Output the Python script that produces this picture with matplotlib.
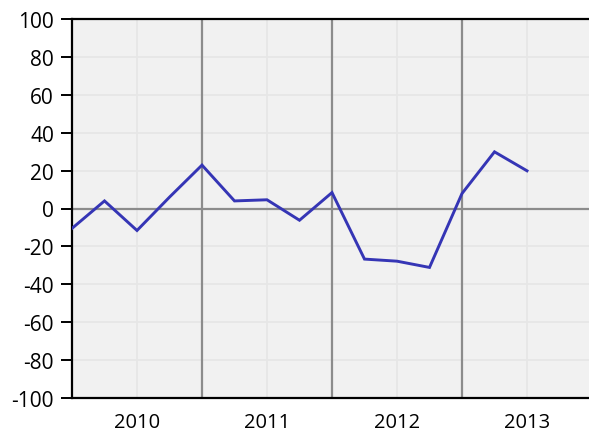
import numpy as np
import matplotlib
matplotlib.use("Agg")
import matplotlib.pyplot as plt

# Données trimestrielles (valeur par trimestre)

trimestres = [2009.5, 2009.75, 2010.0, 2010.25, 2010.5, 2010.75, 2011.0, 2011.25,
              2011.5, 2011.75, 2012.0, 2012.25, 2012.5, 2012.75, 2013.0]
valeurs = [-10.5, 4.0, -11.6, 6.0, 22.9, 4.0, 4.6, -6.2,
           8.4, -26.7, -27.8, -31.1, 7.9, 29.9, 19.9]

annees = [2010, 2011, 2012, 2013]
separations = [2010.5, 2011.5, 2012.5]
yticks = list(range(-100, 101, 20))

plt.rcParams['font.family'] = ['Open Sans', 'DejaVu Sans']

fig = plt.figure(figsize=(5.89, 4.35), dpi=100)
ax = fig.add_axes([72/589, 36/435, 1 - 72/589, 379/435])
ax.set_facecolor('#f1f1f1')

# Grille claire
for y in yticks:
    ax.axhline(y, color='#e6e6e6', linewidth=1.2, zorder=0)
for x in annees:
    ax.axvline(x, color='#e6e6e6', linewidth=1.2, zorder=0)

# Séparations foncées
for x in separations:
    ax.axvline(x, color='#8c8c8c', linewidth=1.6, zorder=1)
ax.axhline(0, color='#8c8c8c', linewidth=1.6, zorder=1)

ax.plot(trimestres, valeurs, color='#3535b5', linewidth=2.1, zorder=3,
        solid_joinstyle='miter')

ax.set_xlim(2009.5, 2013.477)
ax.set_ylim(-100, 100)
ax.set_xticks(annees)
ax.set_xticklabels([str(a) for a in annees])
ax.set_yticks(yticks)
ax.set_yticklabels([str(v) for v in yticks])

ax.tick_params(axis='y', length=8, width=1.4, pad=5, labelsize=15)
ax.tick_params(axis='x', length=0, pad=10, labelsize=14.5)

for s in ['left', 'top', 'bottom']:
    ax.spines[s].set_linewidth(1.6)
    ax.spines[s].set_color('black')
ax.spines['right'].set_visible(False)

fig.savefig('out.png', dpi=100)
